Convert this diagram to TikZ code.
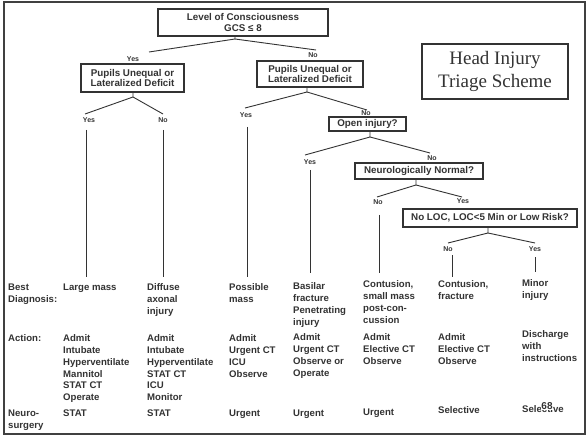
\documentclass[tikz,border=0pt]{standalone}
\usepackage{fontspec}
\setmainfont{Liberation Sans}
\newfontfamily\titlefont{Liberation Serif}
\definecolor{ink}{HTML}{333333}
\definecolor{framec}{HTML}{404040}
\begin{document}
\begin{tikzpicture}[x=1pt,y=-1pt,
  ln/.style={draw=ink,line width=0.9pt},
  qbox/.style={draw=ink,line width=1.1pt,inner sep=0pt,align=center,font=\bfseries\fontsize{9.8}{10.6}\selectfont,text=ink},
  yn/.style={font=\bfseries\fontsize{7}{7.5}\selectfont,text=ink,inner sep=0pt},
  cell/.style={anchor=north west,inner sep=0pt,align=left,font=\bfseries\fontsize{9.6}{11.8}\selectfont,text=ink},
]
\useasboundingbox (0,0) rectangle (588,438);
\fill[white] (0,0) rectangle (588,438);
\draw[draw=framec,line width=2.5pt] (4,2) rectangle (585,434);

% question boxes
\node[qbox,minimum width=170pt,minimum height=27pt] (loc) at (243,22.5) {Level of Consciousness\\GCS ≤ 8};
\node[qbox,minimum width=103pt,minimum height=28pt] (pl) at (132.5,78) {Pupils Unequal or\\Lateralized Deficit};
\node[qbox,minimum width=106pt,minimum height=26pt] (pr) at (310,74) {Pupils Unequal or\\Lateralized Deficit};
\node[qbox,minimum width=77pt,minimum height=14pt] (open) at (367.5,124) {Open injury?};
\node[qbox,minimum width=128pt,minimum height=16pt] (neuro) at (419,171) {Neurologically Normal?};
\node[qbox,minimum width=174pt,minimum height=18pt] (risk) at (490,218) {No LOC, LOC<5 Min or Low Risk?};
\node[draw=ink,line width=1.1pt,minimum width=146pt,minimum height=55pt,inner sep=0pt,align=center,
      font=\titlefont\fontsize{19}{23}\selectfont,text=ink] (title) at (495,71.5) {Head Injury\\Triage Scheme};

% level of consciousness split
\coordinate (locS) at (235,39);
\coordinate (locY) at (149,52);
\coordinate (locN) at (316,50);
\draw[ln] (loc.south -| locS) -- (locS) -- (locY);
\draw[ln] (locS) -- (locN);
\node[yn] (y1) at (133,59) {Yes};
\node[yn] (n1) at (313,55) {No};

% left pupils split
\coordinate (plS) at (133,97);
\coordinate (plY) at (85,114);
\coordinate (plN) at (163,114);
\draw[ln] (pl.south -| plS) -- (plS) -- (plY);
\draw[ln] (plS) -- (plN);
\node[yn] (y2) at (89,120) {Yes};
\node[yn] (n2) at (163,120) {No};
\coordinate (v1t) at (86,130);  \coordinate (v1b) at (86,277);
\coordinate (v2t) at (163,130); \coordinate (v2b) at (163,277);
\draw[ln] (v1t) -- (v1b);
\draw[ln] (v2t) -- (v2b);

% right pupils split
\coordinate (prS) at (307,92);
\coordinate (prY) at (245,108);
\coordinate (prN) at (367,110);
\draw[ln] (pr.south -| prS) -- (prS) -- (prY);
\draw[ln] (prS) -- (prN);
\node[yn] (y3) at (246,115) {Yes};
\node[yn] (n3) at (366,113.5) {No};
\coordinate (v3t) at (247,127); \coordinate (v3b) at (247,277);
\draw[ln] (v3t) -- (v3b);

% open injury split
\coordinate (opS) at (370,137);
\coordinate (opY) at (305,155);
\coordinate (opN) at (430,153);
\draw[ln] (open.south -| opS) -- (opS) -- (opY);
\draw[ln] (opS) -- (opN);
\node[yn] (y4) at (310,162.5) {Yes};
\node[yn] (n4) at (432,158) {No};
\coordinate (v4t) at (310,170); \coordinate (v4b) at (310,273);
\draw[ln] (v4t) -- (v4b);

% neuro split
\coordinate (nnS) at (416,185);
\coordinate (nnN) at (377,197);
\coordinate (nnY) at (462,197);
\draw[ln] (neuro.south -| nnS) -- (nnS) -- (nnN);
\draw[ln] (nnS) -- (nnY);
\node[yn] (n5) at (378,202) {No};
\node[yn] (y5) at (463,201) {Yes};
\coordinate (v5t) at (379,215); \coordinate (v5b) at (379,273);
\draw[ln] (v5t) -- (v5b);

% risk split
\coordinate (rkS) at (488,233);
\coordinate (rkN) at (448,243);
\coordinate (rkY) at (535,243);
\draw[ln] (risk.south -| rkS) -- (rkS) -- (rkN);
\draw[ln] (rkS) -- (rkY);
\node[yn] (n6) at (448,249) {No};
\node[yn] (y6) at (535,249) {Yes};
\coordinate (v6t) at (452,255); \coordinate (v6b) at (452,277);
\coordinate (v7t) at (535,257); \coordinate (v7b) at (535,272);
\draw[ln] (v6t) -- (v6b);
\draw[ln] (v7t) -- (v7b);

% row labels
\node[cell] (lbd) at (8,283.5) {Best\\Diagnosis:};
\node[cell] (lac) at (8,334.5) {Action:};
\node[cell] (lns) at (8,409.5) {Neuro-\\surgery};

% diagnoses
\node[cell] (d1) at (63,283.5) {Large mass};
\node[cell] (d2) at (147,283.5) {Diffuse\\axonal\\injury};
\node[cell] (d3) at (229,283.5) {Possible\\mass};
\node[cell] (d4) at (293,282.5) {Basilar\\fracture\\Penetrating\\injury};
\node[cell] (d5) at (363,280.5) {Contusion,\\small mass\\post-con-\\cussion};
\node[cell] (d6) at (438,280.5) {Contusion,\\fracture};
\node[cell] (d7) at (522,279.5) {Minor\\injury};

% actions
\node[cell] (a1) at (63,334.5) {Admit\\Intubate\\Hyperventilate\\Mannitol\\STAT CT\\Operate};
\node[cell] (a2) at (147,334.5) {Admit\\Intubate\\Hyperventilate\\STAT CT\\ICU\\Monitor};
\node[cell] (a3) at (229,334.5) {Admit\\Urgent CT\\ICU\\Observe};
\node[cell] (a4) at (293,333.5) {Admit\\Urgent CT\\Observe or\\Operate};
\node[cell] (a5) at (363,333.5) {Admit\\Elective CT\\Observe};
\node[cell] (a6) at (438,333.5) {Admit\\Elective CT\\Observe};
\node[cell] (a7) at (522,330.5) {Discharge\\with\\instructions};

% neurosurgery
\node[cell] (s1) at (63,409.5) {STAT};
\node[cell] (s2) at (147,409.5) {STAT};
\node[cell] (s3) at (229,409.5) {Urgent};
\node[cell] (s4) at (293,409.5) {Urgent};
\node[cell] (s5) at (363,408.5) {Urgent};
\node[cell] (s6) at (438,406.5) {Selective};
\node[cell] (s7) at (522,405.5) {Selective};
\node[fill=white,inner sep=0.3pt,font=\bfseries\fontsize{10}{10}\selectfont,text=ink] (pg) at (547,406.5) {68};
\end{tikzpicture}
\end{document}
